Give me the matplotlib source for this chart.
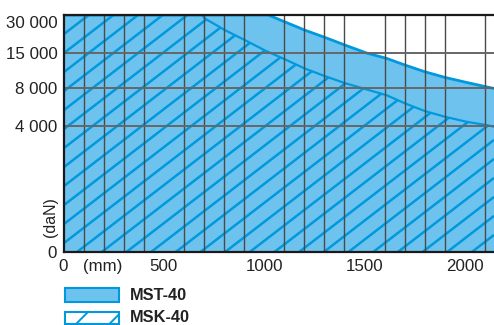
import numpy as np
import matplotlib
matplotlib.use("Agg")
import matplotlib.pyplot as plt
import matplotlib.transforms as mtransforms
from matplotlib.collections import LineCollection
from matplotlib.patches import Rectangle

plt.rcParams['font.family'] = ['Liberation Sans', 'DejaVu Sans']

# ---------------- data ----------------
x_mst = [0, 1020, 1104, 1203, 1303, 1403, 1511, 1610, 1702, 1801, 1901, 2009, 2109, 2145]
y_mst = [30000, 30000, 27280, 24050, 21220, 18220, 15100, 13980, 12620, 11260, 10120, 9100, 8200, 7940]

x_msk = [0, 689, 705, 805, 904, 1007, 1104, 1203, 1303, 1403, 1511, 1610, 1702, 1801, 1901, 2009, 2109, 2145]
y_msk = [30000, 30000, 28600, 24050, 20170, 16000, 13780, 11910, 10380, 8960, 7830, 7230, 6360, 5550, 4950, 4420, 4070, 3970]

y_ticks = [0, 4000, 8000, 15000, 30000]
y_tick_labels = ['0', '4 000', '8 000', '15 000', '30 000']
x_ticks = [0, 500, 1000, 1500, 2000]
x_tick_labels = ['0', '500', '1000', '1500', '2000']
series_names = ['MST-40', 'MSK-40']

# ---------------- style ----------------
FILL = '#6EC3EE'
BLUE = '#0099DD'
GRID = '#4a4a4a'
TXT = '#222222'
pos = [0.0, 0.532, 0.692, 0.838, 1.0]   # visual positions of y ticks (non-linear axis)

plt.rcParams['hatch.linewidth'] = 1.4
plt.rcParams['hatch.color'] = BLUE

fig = plt.figure(figsize=(4.94, 3.25), dpi=100)
ax = fig.add_axes([63.5 / 494, 1 - 251.7 / 325, 430.5 / 494, 236.7 / 325])

fwd = lambda v: np.interp(v, y_ticks, pos)
inv = lambda p: np.interp(p, pos, y_ticks)
ax.set_yscale('function', functions=(fwd, inv))
ax.set_xlim(0, 2145)
ax.set_ylim(0, 30000)

# MST-40 filled area
ax.fill_between(x_mst, 0, y_mst, facecolor=FILL, edgecolor='none', zorder=1)

# MSK-40 hatched area (custom diagonal hatch, clipped to the area)
clip = ax.fill_between(x_msk, 0, y_msk, facecolor='none', edgecolor='none', zorder=1)
W, H = 430.5, 236.7
s_ax = 0.77 * W / H
dy = 19.0 / H
cs = np.arange(-s_ax - 0.2, 1.2, dy) + 0.03
segs = [[(0, c), (1, c + s_ax)] for c in cs]
lc = LineCollection(segs, colors=BLUE, linewidths=1.8, transform=ax.transAxes, zorder=1.2)
ax.add_collection(lc)
lc.set_clip_path(clip.get_paths()[0], ax.transData)

# curves
ax.plot(x_mst, y_mst, color=BLUE, lw=2.0, zorder=2, solid_joinstyle='round')
ax.plot(x_msk, y_msk, color=BLUE, lw=1.6, zorder=2, solid_joinstyle='round')

# ticks & grid
ax.set_xticks(x_ticks)
ax.set_xticklabels(x_tick_labels)
ax.set_xticks(np.arange(100, 2145, 100), minor=True)
ax.set_yticks(y_ticks)
ax.set_yticklabels(y_tick_labels)
ax.yaxis.set_minor_locator(matplotlib.ticker.NullLocator())
ax.set_axisbelow(False)
ax.grid(False)
ax.grid(True, axis='x', which='minor', color=GRID, lw=1.0, zorder=2.5)
ax.grid(True, axis='y', which='major', color='#666666', lw=1.4, zorder=2.5)

ax.tick_params(axis='both', which='both', length=0, labelsize=12.2, colors=TXT)
ax.tick_params(axis='x', pad=5)
ax.tick_params(axis='y', pad=4.5)

lab = ax.get_yticklabels()[-1]
lab.set_transform(lab.get_transform() + mtransforms.ScaledTranslation(0, -0.07, fig.dpi_scale_trans))

for side in ['left', 'bottom', 'top']:
    ax.spines[side].set_color('#1a1a1a')
    ax.spines[side].set_linewidth(1.6)
    ax.spines[side].set_zorder(3)
ax.spines['right'].set_visible(False)

# axis unit labels
ax.annotate('(mm)', xy=(197, 0), xycoords=('data', 'axes fraction'), xytext=(0, -5),
            textcoords='offset points', ha='center', va='top', fontsize=12.2, color=TXT)
fig.text(50 / 494, 1 - 217 / 325, '(daN)', rotation=90, ha='center', va='center',
         fontsize=11.5, color=TXT)

# legend
r1 = Rectangle((64.5 / 494, 1 - 302 / 325), 54 / 494, 14 / 325, transform=fig.transFigure,
               facecolor=FILL, edgecolor=BLUE, lw=1.5)
r2 = Rectangle((64.5 / 494, 1 - 324 / 325), 54 / 494, 12.5 / 325, transform=fig.transFigure,
               facecolor='white', edgecolor=BLUE, lw=1.5, hatch='/')
fig.add_artist(r1)
fig.add_artist(r2)
fig.text(130 / 494, 1 - 295 / 325, series_names[0], ha='left', va='center', fontsize=11.8,
         fontweight='bold', color=TXT)
fig.text(130 / 494, 1 - 318 / 325, series_names[1], ha='left', va='center', fontsize=11.8,
         fontweight='bold', color=TXT)

fig.savefig('out.png', dpi=100)
